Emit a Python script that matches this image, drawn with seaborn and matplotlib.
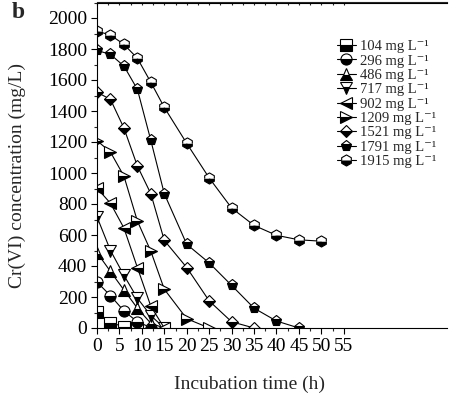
import numpy as np
import pandas as pd
import matplotlib
matplotlib.use('Agg')
import matplotlib.pyplot as plt
from matplotlib.ticker import MultipleLocator, FixedLocator
import seaborn as sns

# ==========================================
# data
# ==========================================
series_labels = ['104', '296', '486', '717', '902', '1209', '1521', '1791', '1915']
series_markers = ['s', 'o', '^', 'v', '<', '>', 'D', 'p', 'h']

t_104 = [0, 3, 6, 9]
c_104 = [104, 35, 8, 0]
t_296 = [0, 3, 6, 9, 12]
c_296 = [296, 209, 110, 40, 3]
t_486 = [0, 3, 6, 9, 12, 15]
c_486 = [486, 365, 245, 128, 30, 0]
t_717 = [0, 3, 6, 9, 12, 15]
c_717 = [717, 500, 340, 192, 80, 0]
t_902 = [0, 3, 6, 9, 12, 15]
c_902 = [902, 805, 645, 390, 140, 0]
t_1209 = [0, 3, 6, 9, 12, 15, 20, 25]
c_1209 = [1209, 1135, 980, 690, 495, 250, 60, 0]
t_1521 = [0, 3, 6, 9, 12, 15, 20, 25, 30, 35]
c_1521 = [1521, 1475, 1290, 1045, 866, 565, 390, 175, 40, 0]
t_1791 = [0, 3, 6, 9, 12, 15, 20, 25, 30, 35, 40, 45]
c_1791 = [1791, 1765, 1690, 1540, 1210, 866, 540, 420, 275, 128, 45, 0]
t_1915 = [0, 3, 6, 9, 12, 15, 20, 25, 30, 35, 40, 45, 50]
c_1915 = [1915, 1890, 1830, 1740, 1585, 1423, 1191, 968, 774, 662, 598, 569, 560]

times = [t_104, t_296, t_486, t_717, t_902, t_1209, t_1521, t_1791, t_1915]
concs = [c_104, c_296, c_486, c_717, c_902, c_1209, c_1521, c_1791, c_1915]

x_ticks = list(range(0, 56, 5))
y_ticks = list(range(0, 2001, 200))

# ==========================================
# style
# ==========================================
sns.set_style('ticks')
plt.rcParams['font.family'] = ['Liberation Serif', 'DejaVu Serif']

W, H = 457, 396
fig = plt.figure(figsize=(W / 100, H / 100), dpi=100)
# axes frame in pixels: left 97, right 447, bottom 328, top 2.5
ax = fig.add_axes([97 / W, (H - 328) / H, (447 - 97) / W, (328 - 2.5) / H])

for lab, mk, t, c in zip(series_labels, series_markers, times, concs):
    df = pd.DataFrame({'t': t, 'c': c})
    ms = 6.5 if mk == 'D' else 8
    sns.lineplot(data=df, x='t', y='c', ax=ax, color='black', linewidth=0.8,
                 marker=mk, markersize=ms, markeredgecolor='black',
                 markeredgewidth=0.8, markerfacecolor='black',
                 markerfacecoloralt='white', fillstyle='bottom',
                 label=lab + ' mg L\u207b\u00b9', legend=False)

ax.set_xlim(0, 78)
ax.set_ylim(0, 2100)
ax.set_xticks(x_ticks)
ax.set_yticks(y_ticks)
ax.xaxis.set_minor_locator(FixedLocator(np.arange(2.5, 55, 5)))
ax.yaxis.set_minor_locator(MultipleLocator(100))

ax.spines['right'].set_visible(False)
for s in ax.spines.values():
    s.set_linewidth(0.8)
    s.set_color('black')

ax.tick_params(axis='both', which='major', direction='out', length=4, width=0.8,
               labelsize=14, colors='black', pad=3)
ax.tick_params(axis='both', which='minor', direction='out', length=2.5, width=0.8)

# ticks hanging from the top frame line
sec = ax.secondary_xaxis('top')
sec.set_xticks(x_ticks)
sec.xaxis.set_minor_locator(FixedLocator(np.arange(2.5, 55, 5)))
sec.tick_params(which='both', direction='in', length=2.5, width=0.8, labeltop=False)
sec.spines['top'].set_linewidth(0.8)

ax.set_xlabel('Incubation time (h)', fontsize=14)
ax.set_ylabel('Cr(VI) concentration (mg/L)', fontsize=14)
ax.xaxis.set_label_coords((250 - 97) / 350, (328 - 376) / 325.5)
ax.yaxis.set_label_coords((26 - 97) / 350, (328 - 175) / 325.5)

handles, labels = ax.get_legend_handles_labels()
ax.legend(handles, labels, loc='upper left',
          bbox_to_anchor=(337 / W, 1 - 40 / H), bbox_transform=fig.transFigure,
          frameon=False, fontsize=10.5, handlelength=1.3, handletextpad=0.3,
          labelspacing=0.08, borderpad=0, borderaxespad=0)

fig.text(12 / W, 1 - 2 / H, 'b', fontsize=17, fontweight='bold', va='top', ha='left')

fig.savefig('out.png', dpi=100)
